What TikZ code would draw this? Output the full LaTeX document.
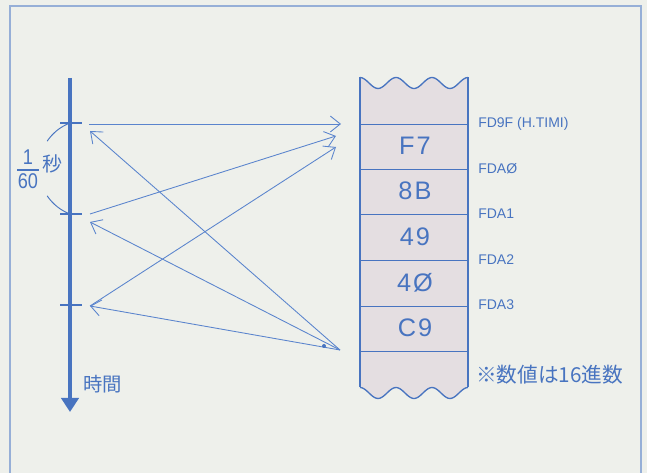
\documentclass[tikz,border=0pt]{standalone}
\usepackage{fontspec}
\setmainfont{Liberation Sans}
\newfontfamily\jp{Noto Sans CJK JP}
\newfontfamily\valfont[LetterSpace=8]{Liberation Sans}
\newfontfamily\narrowfont[FakeStretch=0.85]{Liberation Sans}
\usetikzlibrary{arrows.meta}
\definecolor{bg}{RGB}{238,240,235}
\definecolor{frame}{RGB}{150,175,215}
\definecolor{ink}{RGB}{72,116,192}
\definecolor{thin}{RGB}{90,132,205}
\definecolor{memfill}{RGB}{228,222,225}
\tikzset{
  conn/.style={draw=thin, line width=0.65pt, -{Straight Barb[length=7.5pt,width=12pt,line width=0.65pt]}},
  tick/.style={draw=ink, line width=0.8pt},
  cell/.style={draw=ink, line width=1pt},
  val/.style={text=ink, font=\valfont\fontsize{19}{19}\selectfont, inner sep=0pt},
  addr/.style={text=ink, font=\fontsize{10.5}{11}\selectfont, anchor=west, inner sep=0pt},
  jptext/.style={text=ink, inner sep=0pt},
}
\begin{document}
\begin{tikzpicture}[x=0.75pt,y=-0.75pt]
\useasboundingbox (0,0) rectangle (647,473);
\fill[bg] (0,0) rectangle (647,473);
% frame
\draw[frame, line width=1.1pt] (10,474) -- (10,6) -- (641,6) -- (641,474);

% time axis
\draw[ink, line width=2.3pt, -{Triangle[length=10.5pt,width=13pt]}] (70,78) -- (70,412);
\node[jptext, font=\jp\fontsize{14.5}{15}\selectfont] (jikan) at (103,384) {時間};

% ticks
\draw[tick] (60,123) -- (82,123);
\draw[tick] (60,214) -- (82,214);
\draw[tick] (60,305) -- (82,305);

% 1/60 sec arc
\draw[ink, line width=0.7pt] plot[domain=214:249, samples=25] ({87.6+48.8*cos(\x)},{168.5+48.8*sin(\x)});
\draw[ink, line width=0.7pt] plot[domain=111:146, samples=25] ({87.6+48.8*cos(\x)},{168.5+48.8*sin(\x)});
\node[text=ink, font=\narrowfont\fontsize{16}{16}\selectfont, inner sep=0pt] (num) at (28,157) {1};
\node[text=ink, font=\narrowfont\fontsize{16}{16}\selectfont, inner sep=0pt] (den) at (28,181) {60};
\draw[ink, line width=0.8pt] (17,170) -- (39,170);
\node[jptext, font=\jp\fontsize{15}{15}\selectfont] (byo) at (52,164) {秒};

% memory block
\fill[memfill] plot[domain=360:468, samples=60] (\x,{83-5.5*cos((\x-360)*10)})
  -- plot[domain=468:360, samples=60] (\x,{393-5.5*cos((\x-360)*10)}) -- cycle;
\draw[cell] plot[domain=360:468, samples=60] (\x,{83-5.5*cos((\x-360)*10)});
\draw[cell] plot[domain=360:468, samples=60] (\x,{393-5.5*cos((\x-360)*10)});
\draw[cell] (360,77.5) -- (360,387.5);
\draw[cell] (468,77.5) -- (468,387.5);
\foreach \yy in {124,169,214,260,306,351} \draw[ink, line width=0.6pt] (360,\yy) -- (468,\yy);

\node[val] (v1) at (415,146) {F7};
\node[val] (v2) at (415,191) {8B};
\node[val] (v3) at (415,237) {49};
\node[val] (v4) at (415,283) {4Ø};
\node[val] (v5) at (415,328) {C9};

\node[addr] (a0) at (478,124) {FD9F (H.TIMI)};
\node[addr] (a1) at (478,169) {FDAØ};
\node[addr] (a2) at (478,214) {FDA1};
\node[addr] (a3) at (478,260) {FDA2};
\node[addr] (a4) at (478,305) {FDA3};
\node[jptext, font=\jp\fontsize{15.5}{16}\selectfont, anchor=west] (note) at (476,375) {※数値は16進数};

% connectors
\coordinate (L1) at (89,124);
\coordinate (L1b) at (90,131);
\coordinate (L2) at (90,214);
\coordinate (L2b) at (90,222);
\coordinate (L3) at (90,306);
\coordinate (R1) at (341,124);
\coordinate (R2) at (336,136);
\coordinate (R3) at (336,147);
\coordinate (RB) at (340,350);
\draw[conn] (L1) -- (R1);
\draw[conn] (L2) -- (R2);
\draw[conn] (L3) -- (R3);
\draw[conn] (RB) -- (L1b);
\draw[conn] (RB) -- (L2b);
\draw[conn] (RB) -- (L3);
\fill[ink] (324,346) circle (2);
\end{tikzpicture}
\end{document}
